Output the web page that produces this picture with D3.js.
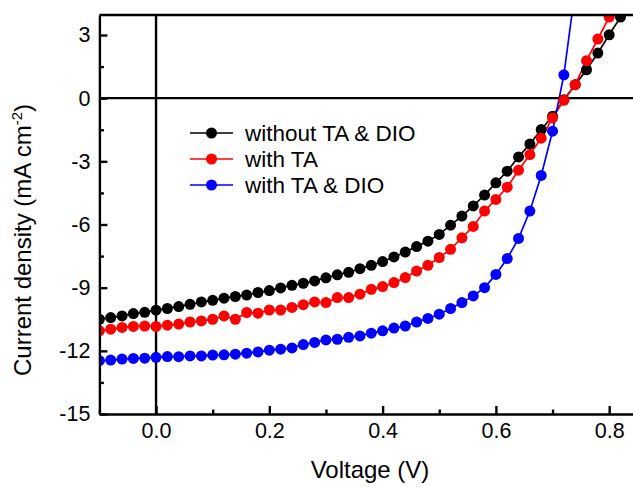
<!DOCTYPE html>
<html>
<head>
<meta charset="utf-8">
<script src="https://cdn.jsdelivr.net/npm/d3@7"></script>
<style>
  body { margin: 0; background: #fff; }
  text { font-family: "Liberation Sans", Arial, sans-serif; fill: #000; }
</style>
</head>
<body>
<svg id="chart" width="633" height="487"></svg>
<script>
// voltage sweep (V)
var voltage = [-0.10, -0.08, -0.06, -0.04, -0.02, 0.00, 0.02, 0.04, 0.06, 0.08,
  0.10, 0.12, 0.14, 0.16, 0.18, 0.20, 0.22, 0.24, 0.26, 0.28,
  0.30, 0.32, 0.34, 0.36, 0.38, 0.40, 0.42, 0.44, 0.46, 0.48,
  0.50, 0.52, 0.54, 0.56, 0.58, 0.60, 0.62, 0.64, 0.66, 0.68,
  0.70, 0.72, 0.74, 0.76, 0.78, 0.80, 0.82, 0.84];

// current density (mA cm-2)
var jWithout = [-10.50, -10.42, -10.34, -10.23, -10.17, -10.07, -9.99, -9.90, -9.79, -9.68,
  -9.60, -9.50, -9.42, -9.35, -9.23, -9.14, -9.01, -8.89, -8.79, -8.68,
  -8.53, -8.39, -8.27, -8.10, -7.94, -7.76, -7.54, -7.31, -7.05, -6.79,
  -6.47, -6.03, -5.60, -5.12, -4.60, -4.02, -3.47, -2.79, -2.18, -1.49,
  -0.86, -0.07, 0.64, 1.35, 2.14, 3.01, 3.85, 4.76];
var jTA = [-11.05, -10.97, -10.89, -10.84, -10.82, -10.84, -10.78, -10.73, -10.63, -10.58,
  -10.50, -10.34, -10.50, -10.18, -10.21, -10.06, -10.06, -9.94, -9.81, -9.68,
  -9.71, -9.47, -9.47, -9.31, -9.08, -8.95, -8.76, -8.52, -8.21, -7.94,
  -7.57, -7.18, -6.63, -6.09, -5.36, -4.81, -4.23, -3.42, -2.68, -1.90,
  -0.94, -0.10, 0.64, 1.78, 2.81, 3.85, 4.91];
var jTADIO = [-12.47, -12.44, -12.39, -12.36, -12.35, -12.31, -12.27, -12.28, -12.24, -12.24,
  -12.20, -12.19, -12.16, -12.11, -12.05, -11.97, -11.92, -11.86, -11.70, -11.60,
  -11.48, -11.45, -11.36, -11.29, -11.16, -11.05, -10.92, -10.82, -10.63, -10.46,
  -10.26, -9.99, -9.71, -9.39, -9.00, -8.37, -7.62, -6.66, -5.36, -3.67,
  -1.57, 1.11, 5.14];

var seriesNames = ["without TA & DIO", "with TA", "with TA & DIO"];
var seriesColors = ["#000000", "#ff0000", "#0000ff"];

var xTicks = [0.0, 0.2, 0.4, 0.6, 0.8];
var xMinor = [-0.1, 0.1, 0.3, 0.5, 0.7];
var yTicks = [-15, -12, -9, -6, -3, 0, 3];
var yMinor = [-13.5, -10.5, -7.5, -4.5, -1.5, 1.5];

(function() {
  var series = [jWithout, jTA, jTADIO].map(function(vals, i) {
    return {
      name: seriesNames[i],
      color: seriesColors[i],
      points: vals.map(function(v, k) { return [voltage[k], v]; })
    };
  });

  var svg = d3.select("#chart");
  var pLeft = 99.4, pRight = 637.5, pTop = 15, pBottom = 414;

  var x = d3.scaleLinear().domain([-0.1, 0.85]).range([pLeft, pRight]);
  var y = d3.scaleLinear().domain([-15, 3.95]).range([pBottom, pTop]);

  svg.append("defs").append("clipPath").attr("id", "plotClip")
    .append("rect").attr("x", pLeft).attr("y", pTop)
    .attr("width", pRight - pLeft).attr("height", pBottom - pTop);

  // zero reference lines
  svg.append("line").attr("x1", x(0)).attr("x2", x(0)).attr("y1", pTop).attr("y2", pBottom)
    .attr("stroke", "#000").attr("stroke-width", 2.4);
  svg.append("line").attr("x1", pLeft).attr("x2", pRight).attr("y1", y(0)).attr("y2", y(0))
    .attr("stroke", "#000").attr("stroke-width", 2.4);

  // data
  var plot = svg.append("g").attr("clip-path", "url(#plotClip)");
  var line = d3.line().x(function(d) { return x(d[0]); }).y(function(d) { return y(d[1]); });

  series.forEach(function(s) {
    plot.append("path").datum(s.points).attr("d", line)
      .attr("fill", "none").attr("stroke", s.color).attr("stroke-width", 1.7);
  });
  series.forEach(function(s) {
    plot.append("g").selectAll("circle").data(s.points).enter().append("circle")
      .attr("cx", function(d) { return x(d[0]); })
      .attr("cy", function(d) { return y(d[1]); })
      .attr("r", 5.5).attr("fill", s.color);
  });

  // frame top
  svg.append("line").attr("x1", pLeft).attr("x2", pRight).attr("y1", pTop).attr("y2", pTop)
    .attr("stroke", "#000").attr("stroke-width", 2.4);

  // axes
  function styleAxis(g) {
    g.select(".domain").attr("stroke", "#000").attr("stroke-width", 2.4);
    g.selectAll(".tick line").attr("stroke", "#000").attr("stroke-width", 2.4);
    g.selectAll(".tick text").style("font-size", "21.5px")
      .style("font-family", '"Liberation Sans", Arial, sans-serif').attr("fill", "#000");
  }

  var xAxis = svg.append("g").attr("transform", "translate(0," + pBottom + ")")
    .call(d3.axisBottom(x).tickValues(xTicks).tickFormat(d3.format(".1f"))
      .tickSizeInner(-8).tickSizeOuter(0).tickPadding(9));
  styleAxis(xAxis);
  svg.append("g").attr("transform", "translate(0," + pBottom + ")")
    .call(d3.axisBottom(x).tickValues(xMinor).tickFormat("").tickSizeInner(-4.5).tickSizeOuter(0))
    .call(styleAxis).select(".domain").remove();

  var yAxis = svg.append("g").attr("transform", "translate(" + pLeft + ",0)")
    .call(d3.axisLeft(y).tickValues(yTicks).tickFormat(function(d) { return String(d); })
      .tickSizeInner(-8).tickSizeOuter(0).tickPadding(9));
  styleAxis(yAxis);
  svg.append("g").attr("transform", "translate(" + pLeft + ",0)")
    .call(d3.axisLeft(y).tickValues(yMinor).tickFormat("").tickSizeInner(-4.5).tickSizeOuter(0))
    .call(styleAxis).select(".domain").remove();

  // axis titles
  svg.append("text").attr("x", 370).attr("y", 478)
    .attr("text-anchor", "middle").style("font-size", "24px").text("Voltage (V)");

  var yt = svg.append("text").attr("transform", "translate(31,240) rotate(-90)")
    .attr("text-anchor", "middle").style("font-size", "24px");
  yt.append("tspan").text("Current density (mA cm");
  yt.append("tspan").attr("dy", -9).style("font-size", "15px").text("-2");
  yt.append("tspan").attr("dy", 9).text(")");

  // legend
  var legend = svg.append("g");
  series.forEach(function(s, i) {
    var ly = 133 + i * 26;
    legend.append("line").attr("x1", 190).attr("x2", 233).attr("y1", ly).attr("y2", ly)
      .attr("stroke", s.color).attr("stroke-width", 1.7);
    legend.append("circle").attr("cx", 211.5).attr("cy", ly).attr("r", 5.5).attr("fill", s.color);
    legend.append("text").attr("x", 245).attr("y", ly + 8).style("font-size", "22.5px").text(s.name);
  });
})();
</script>
</body>
</html>
